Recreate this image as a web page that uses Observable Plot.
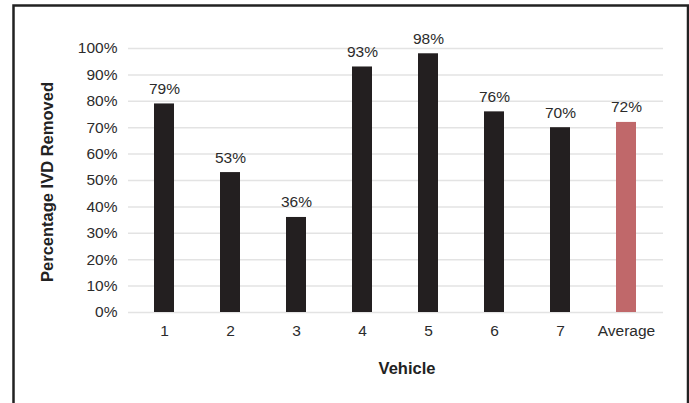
<!DOCTYPE html>
<html>
<head>
<meta charset="utf-8">
<script src="https://cdn.jsdelivr.net/npm/d3@7"></script>
<script src="https://cdn.jsdelivr.net/npm/@observablehq/plot@0.6"></script>
<style>
  html, body { margin: 0; padding: 0; background: #fff; }
</style>
</head>
<body>
<div id="chart"></div>
<script>
const vehicles = ["1", "2", "3", "4", "5", "6", "7", "Average"];
const removed = [79, 53, 36, 93, 98, 76, 70, 72];
const barColors = ["#231f20", "#231f20", "#231f20", "#231f20", "#231f20", "#231f20", "#231f20", "#c0686a"];
const yTicks = [0, 10, 20, 30, 40, 50, 60, 70, 80, 90, 100];

const data = vehicles.map((v, i) => ({vehicle: v, value: removed[i], color: barColors[i]}));
const font = "'Liberation Sans', Arial, Helvetica, sans-serif";

const chart = Plot.plot({
  width: 689,
  height: 403,
  marginLeft: 128,
  marginRight: 26,
  marginTop: 48,
  marginBottom: 91,
  style: {fontFamily: font, fontSize: "15px", color: "#2b2b2b", background: "#fff", overflow: "hidden"},
  x: {domain: vehicles, paddingInner: 0.69, paddingOuter: 0.345, align: 0.5},
  y: {domain: [0, 100]},
  marks: [
    Plot.frame({stroke: "#222", strokeWidth: 2.5, insetLeft: -115, insetTop: -43, insetRight: -24.5, insetBottom: -110}),
    Plot.gridY(yTicks, {stroke: "#e3e3e3", strokeOpacity: 1, strokeWidth: 1.5}),
    Plot.barY(data, {x: "vehicle", y: "value", fill: "color"}),
    Plot.text(data, {x: "vehicle", y: "value", text: d => d.value + "%", dy: -15, lineAnchor: "middle", fill: "#2b2b2b", fontSize: 15.5}),
    Plot.axisY(yTicks, {tickSize: 0, tickPadding: 11, tickFormat: d => d + "%", label: null, fontSize: 15.5, fill: "#2b2b2b"}),
    Plot.axisX({tickSize: 0, tickPadding: 12, label: null, fontSize: 15.5, fill: "#2b2b2b"}),
    Plot.text(["Vehicle"], {frameAnchor: "bottom", dx: 11, dy: 56, lineAnchor: "middle", fontWeight: "bold", fontSize: 16.5, fill: "#222"}),
    Plot.text(["Percentage IVD Removed"], {frameAnchor: "left", textAnchor: "middle", dx: -81, dy: 1.5, rotate: -90, lineAnchor: "middle", fontWeight: "bold", fontSize: 16.5, fill: "#222"})
  ]
});
document.getElementById("chart").appendChild(chart);
</script>
</body>
</html>
